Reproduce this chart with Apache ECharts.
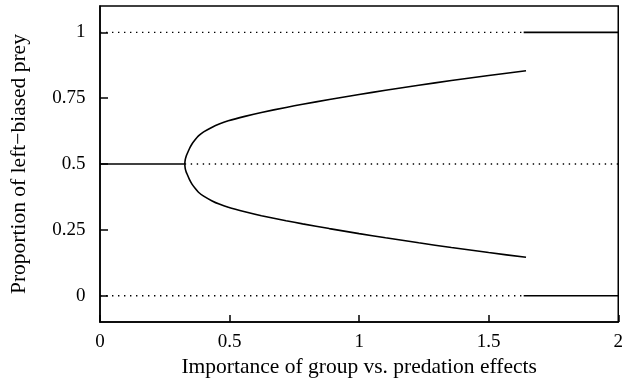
<!DOCTYPE html>
<html>
<head>
<meta charset="utf-8">
<script src="https://cdn.jsdelivr.net/npm/echarts@6/dist/echarts.min.js"></script>
<style>html,body{margin:0;padding:0;background:#fff;}#c{width:626px;height:383px;}</style>
</head>
<body>
<div id="c"></div>
<script>
// Upper and lower stable branches
var branchX     = [0.327, 0.329, 0.332, 0.336, 0.345, 0.355, 0.367, 0.380, 0.400, 0.431, 0.460, 0.495, 0.559, 0.623, 0.718, 0.782, 0.885, 1.000, 1.102, 1.230, 1.356, 1.500, 1.644];
var upperY      = [0.500, 0.517, 0.528, 0.538, 0.558, 0.576, 0.592, 0.607, 0.622, 0.639, 0.652, 0.664, 0.681, 0.696, 0.715, 0.727, 0.745, 0.764, 0.780, 0.799, 0.817, 0.836, 0.854];
var lowerY      = [0.500, 0.483, 0.472, 0.462, 0.442, 0.424, 0.408, 0.393, 0.378, 0.361, 0.348, 0.336, 0.319, 0.304, 0.285, 0.273, 0.255, 0.236, 0.220, 0.201, 0.183, 0.164, 0.146];
// Horizontal equilibria
var midSolidX   = [0, 0.327];
var midDottedX  = [0.327, 2];
var edgeDottedX = [0, 1.635];
var edgeSolidX  = [1.635, 2];
var yTicks      = [0, 0.25, 0.5, 0.75, 1];
var xTicks      = [0, 0.5, 1, 1.5, 2];

function pts(xs, ys) { return xs.map(function (x, i) { return [x, ys[i]]; }); }
function flat(xs, y) { return xs.map(function (x) { return [x, y]; }); }

var solid = { color: '#000', width: 1.6, type: 'solid' };
var dotted = { color: '#000', width: 1.4, type: [1.4, 4.6] };

function line(data, style, smooth) {
  return { type: 'line', data: data, symbol: 'none', smooth: smooth || false, lineStyle: style, silent: true, z: 3 };
}

var chart = echarts.init(document.getElementById('c'), null, { renderer: 'canvas' });
var font = 'Liberation Serif';
chart.setOption({
  animation: false,
  backgroundColor: '#fff',
  grid: { left: 98.5, right: 4.5, top: 6, bottom: 60.5, show: true, borderColor: '#000', borderWidth: 1.5, backgroundColor: 'transparent' },
  xAxis: {
    type: 'value', min: 0, max: 2, interval: 0.5,
    name: 'Importance of group vs. predation effects', nameLocation: 'middle', nameGap: 32,
    nameTextStyle: { fontFamily: font, fontSize: 21.5, color: '#000' },
    axisLine: { show: true, onZero: false, lineStyle: { color: '#000', width: 1.5 } },
    axisTick: { show: true, inside: true, length: 7, lineStyle: { color: '#000', width: 1.5 } },
    axisLabel: { fontFamily: font, fontSize: 19, color: '#000', margin: 10, showMaxLabel: true, showMinLabel: true,
      customValues: xTicks },
    splitLine: { show: false }
  },
  yAxis: {
    type: 'value', min: -0.1, max: 1.1,
    name: 'Proportion of left\u2212biased prey', nameLocation: 'middle', nameGap: 70,
    nameTextStyle: { fontFamily: font, fontSize: 21.5, color: '#000' },
    axisLine: { show: true, onZero: false, lineStyle: { color: '#000', width: 1.5 } },
    axisTick: { show: true, inside: true, length: 8, lineStyle: { color: '#000', width: 1.5 }, customValues: yTicks },
    axisLabel: { fontFamily: font, fontSize: 19, color: '#000', margin: 14.5, customValues: yTicks },
    splitLine: { show: false }
  },
  series: [
    line(pts(branchX, upperY), solid, 0.2),
    line(pts(branchX, lowerY), solid, 0.2),
    line(flat(midSolidX, 0.5), solid),
    line(flat(midDottedX, 0.5), dotted),
    line(flat(edgeDottedX, 1), dotted),
    line(flat(edgeDottedX, 0), dotted),
    line(flat(edgeSolidX, 1), solid),
    line(flat(edgeSolidX, 0), solid)
  ]
});
</script>
</body>
</html>
